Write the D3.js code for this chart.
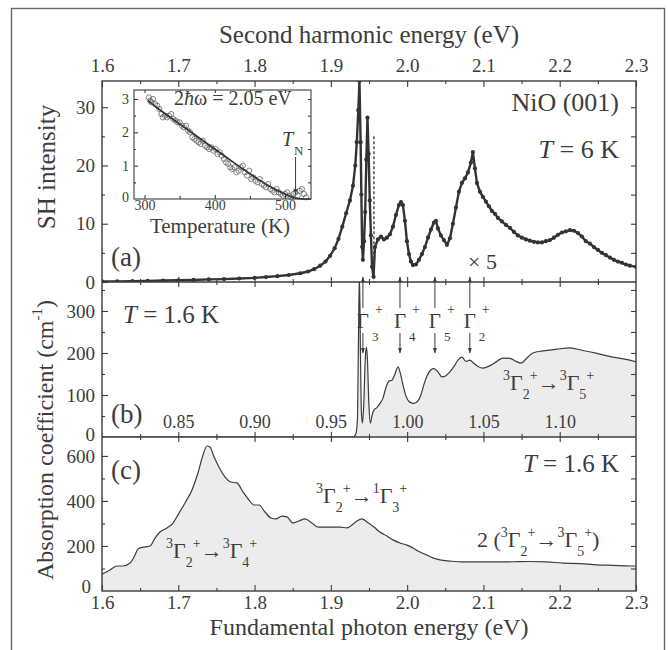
<!DOCTYPE html>
<html><head><meta charset="utf-8">
<script src="https://cdn.jsdelivr.net/npm/d3@7"></script>
<style>
html,body{margin:0;padding:0;background:#fff;}
svg{display:block;}
text{font-family:"Liberation Serif","Times New Roman",serif;fill:#3c3c3c;}
</style></head><body>
<svg id="c" width="669" height="650"></svg>
<script>
// ---------- DATA ----------
// Panel (a): SH intensity vs second-harmonic energy (eV); above the break values are x5
const shEnergy = [1.600,1.620,1.640,1.660,1.680,1.700,1.720,1.740,1.760,1.780,1.800,1.815,1.830,1.845,1.860,1.870,1.878,1.886,1.893,1.899,1.905,1.910,1.915,1.920,1.925,1.929,1.932,1.934,1.936,1.9375,1.939,1.940,1.941,1.942,1.9435,1.945,1.9465,1.948,1.9495,1.951,1.9525,1.954,1.956,
 1.9578,1.9617,1.9657,1.9696,1.9735,1.9775,1.9814,1.9853,1.9892,1.9919,1.9945,1.9971,1.9997,2.0024,2.0050,2.0076,2.0115,2.0155,2.0194,2.0233,2.0273,2.0312,2.0351,2.0377,2.0404,2.0443,2.0482,2.0522,2.0561,2.0600,2.0640,2.0679,2.0718,2.0758,2.0797,2.0836,2.0862,2.0889,2.0915,2.0954,2.0993,2.1033,2.1072,2.1111,2.1151,2.1190,2.1242,2.1295,2.1347,2.1400,2.1452,2.1504,2.1557,2.1609,2.1662,2.1714,2.1767,2.1819,2.1871,2.1924,2.1976,2.2029,2.2081,2.2134,2.2186,2.2239,2.2291,2.2343,2.2396,2.2448,2.2501,2.2553,2.2606,2.2658,2.2710,2.2763,2.2815,2.2868,2.2920,2.3000];
const shIntensity = [0.1,0.1,0.15,0.2,0.25,0.3,0.35,0.45,0.5,0.6,0.7,0.85,1.0,1.2,1.5,1.8,2.2,2.8,3.5,4.5,5.8,7.4,9.5,11.8,14.0,16.5,20,24,29.5,34.5,24,15,6,3.8,7,12,21,28.2,22,14,8,2.6,0.9,
 6.0,7.3,7.8,7.3,7.6,8.2,9.5,11.5,13.2,13.7,13.2,10.5,7.0,4.8,3.5,2.9,3.0,3.8,4.8,6.0,7.6,9.0,10.2,10.5,9.2,8.0,7.2,6.4,7.5,10.0,12.8,15.5,17.0,17.8,18.8,20.5,22.3,19.5,17.0,15.5,14.6,13.8,13.0,12.2,11.7,11.0,10.4,9.8,9.3,8.6,8.0,7.6,7.3,7.1,6.9,6.8,6.8,7.0,7.2,7.6,8.1,8.5,8.7,8.9,8.8,8.4,7.8,7.0,6.6,6.0,5.5,5.0,4.6,4.2,3.8,3.5,3.3,3.0,2.8,2.6];
const scaleBreak = [1.9565, 25];   // dashed line: energy, top value
const scaleFactorLabel = "× 5";

// Inset: SH intensity vs temperature at 2ħω = 2.05 eV
const insetFitT = [305,320,340,360,380,400,420,440,460,480,500,515,525,537];
const insetFitV = [2.95,2.7,2.4,2.1,1.8,1.5,1.2,0.9,0.62,0.36,0.15,0.03,0,0];
const insetPtT = [306,308,310,312,315,318,321,324,326,329,332,335,338,341,344,347,350,353,356,359,362,365,368,371,374,377,380,383,386,389,392,395,398,401,404,407,410,413,416,419,422,425,428,431,434,437,440,443,446,449,452,455,458,461,464,467,470,473,476,479,482,485,488,491,494,497,500,503,506,509,512,515,518,521,524,527,530];
const insetPtV = [3.05,2.95,2.9,3.0,2.85,2.8,2.7,2.55,2.45,2.5,2.45,2.5,2.55,2.4,2.35,2.3,2.3,2.2,2.15,2.2,2.05,2.0,1.85,1.8,1.75,1.7,1.65,1.75,1.6,1.55,1.5,1.55,1.45,1.5,1.35,1.4,1.3,1.2,1.1,1.05,0.95,0.9,0.95,0.8,0.85,0.95,1.0,0.8,0.7,0.85,0.6,0.65,0.55,0.5,0.6,0.45,0.4,0.35,0.45,0.3,0.25,0.2,0.3,0.2,0.15,0.1,0.15,0.2,0.1,0.05,0.15,0.2,0.1,0.25,0.3,0.15,0.05];
const TN = 515;

// Panel (b): absorption vs fundamental energy (eV), 0.8 - 1.15
const bEnergy = [0.8,0.9645,0.9664,0.9674,0.968,0.9687,0.9694,0.970,0.9707,0.9716,0.9726,0.9733,0.9739,0.9749,0.9759,0.9769,0.9782,0.9802,0.9822,0.9841,0.9861,0.9881,0.990,0.992,0.994,0.9953,0.9972,0.9992,1.0018,1.0045,1.0071,1.009,1.011,1.013,1.0156,1.0176,1.0202,1.0228,1.0254,1.028,1.0307,1.0333,1.0359,1.0385,1.0411,1.0438,1.0464,1.0497,1.0543,1.0588,1.0628,1.0674,1.0713,1.0746,1.0785,1.0824,1.089,1.0982,1.1067,1.1152,1.1244,1.1349,1.146,1.15];
const bAbs = [0,0,8,40,200,390,200,60,33,80,190,214,190,80,33,50,64,70,80,92,118,133,135,150,167,155,125,98,83,80,86,100,125,145,160,163,155,143,146,155,168,183,190,180,183,175,168,164,170,180,188,187,180,176,188,200,205,209,212,206,199,190,183,179];
const gammaLevels = [["3",0.971],["4",0.9953],["5",1.0182],["2",1.0411]];

// Panel (c): absorption vs fundamental energy (eV), 1.6 - 2.3
const cEnergy = [1.600,1.6105,1.6197,1.6275,1.6367,1.6433,1.6472,1.6564,1.6629,1.6695,1.676,1.6852,1.6931,1.6996,1.7088,1.718,1.7258,1.7324,1.7376,1.7415,1.7468,1.7533,1.7612,1.7691,1.7769,1.7848,1.7927,1.7992,1.8058,1.8136,1.8215,1.828,1.8359,1.8425,1.8503,1.8582,1.8661,1.8752,1.8831,1.8923,1.9014,1.9119,1.9211,1.9277,1.9342,1.9408,1.9473,1.9565,1.9643,1.9735,1.9814,1.9906,1.9997,2.0076,2.0168,2.0259,2.0338,2.043,2.0561,2.0731,2.0954,2.1177,2.1387,2.1609,2.1832,2.2042,2.2265,2.2488,2.2697,2.292,2.300];
const cAbs = [75,93,111,111,124,160,187,196,200,235,262,280,302,338,391,449,524,604,644,640,596,551,507,484,480,440,404,382,382,351,324,320,333,329,302,311,320,302,284,284,284,284,280,293,311,320,307,284,262,244,227,213,204,191,173,160,147,138,133,129,129,129,130,131,129,124,122,116,114,111,111];

// Axes tick values / labels
const energyMajor = [1.6,1.7,1.8,1.9,2.0,2.1,2.2,2.3];
const energyMinor = [1.65,1.75,1.85,1.95,2.05,2.15,2.25];
const bInnerLabels = [0.85,0.90,0.95,1.00,1.05,1.10];
const aYMajor=[0,10,20,30], aYMinor=[5,15,25];
const bYMajor=[0,100,200,300], bYMinor=[50,150,250,350];
const cYMajor=[0,200,400,600], cYMinor=[100,300,500];
const insetXMajor=[300,400,500], insetXMinor=[350,450];
const insetYMajor=[0,1,2,3], insetYMinor=[0.5,1.5,2.5];

// ---------- LAYOUT ----------
const L=102, R=636, TOP=81, AB=282, BB=437, CB=591;
const INK="#3c3c3c";
const xSH = d3.scaleLinear([1.6,2.3],[L,R]);
const xB  = d3.scaleLinear([0.8,1.15],[L,R]);
const yA  = d3.scaleLinear([0,34.5],[AB,TOP]);
const yB  = d3.scaleLinear([0,369],[BB,AB]);
const yC  = d3.scaleLinear([0,684],[CB,BB]);
const xI  = d3.scaleLinear([285,537],[134,311]);
const yI  = d3.scaleLinear([0,3.27],[199,90]);

const svg = d3.select("#c");
const defs = svg.append("defs");
defs.append("marker").attr("id","ah").attr("viewBox","0 0 10 10").attr("refX",9).attr("refY",5)
  .attr("markerWidth",6).attr("markerHeight",6).attr("orient","auto-start-reverse").attr("markerUnits","userSpaceOnUse")
  .append("path").attr("d","M0,1.5 L10,5 L0,8.5 Z").attr("fill",INK);
defs.append("clipPath").attr("id","clipA").append("rect").attr("x",L).attr("y",TOP).attr("width",R-L).attr("height",AB-TOP);
defs.append("clipPath").attr("id","clipB").append("rect").attr("x",L).attr("y",AB).attr("width",R-L).attr("height",BB-AB);
defs.append("clipPath").attr("id","clipC").append("rect").attr("x",L).attr("y",BB).attr("width",R-L).attr("height",CB-BB);

// outer frame
svg.append("rect").attr("x",11.5).attr("y",8.5).attr("width",653).attr("height",700)
  .attr("fill","none").attr("stroke","#666").attr("stroke-width",1.4);

// ---------- PANEL (b) ----------
const bData = bEnergy.map((e,i)=>[e,bAbs[i]]);
const gB = svg.append("g").attr("clip-path","url(#clipB)");
gB.append("path").datum(bData).attr("fill","#ececec")
  .attr("d",d3.area().x(d=>xB(d[0])).y0(yB(0)).y1(d=>yB(d[1])).curve(d3.curveMonotoneX));
gB.append("path").datum(bData).attr("fill","none").attr("stroke",INK).attr("stroke-width",1.2)
  .attr("d",d3.line().x(d=>xB(d[0])).y(d=>yB(d[1])).curve(d3.curveMonotoneX));

// ---------- PANEL (c) ----------
const cData = cEnergy.map((e,i)=>[e,cAbs[i]]);
const gC = svg.append("g").attr("clip-path","url(#clipC)");
gC.append("path").datum(cData).attr("fill","#ececec")
  .attr("d",d3.area().x(d=>xSH(d[0])).y0(yC(0)).y1(d=>yC(d[1])).curve(d3.curveMonotoneX));
gC.append("path").datum(cData).attr("fill","none").attr("stroke",INK).attr("stroke-width",1.2)
  .attr("d",d3.line().x(d=>xSH(d[0])).y(d=>yC(d[1])).curve(d3.curveMonotoneX));

// ---------- PANEL (a) ----------
const aData = shEnergy.map((e,i)=>[e,shIntensity[i]]);
const gA = svg.append("g").attr("clip-path","url(#clipA)");
gA.append("path").datum(aData).attr("fill","none").attr("stroke","#333").attr("stroke-width",2.4)
  .attr("d",d3.line().x(d=>xSH(d[0])).y(d=>yA(d[1])));
gA.selectAll("circle").data(aData).join("circle")
  .attr("cx",d=>xSH(d[0])).attr("cy",d=>yA(d[1])).attr("r",2.1).attr("fill","#333");
gA.append("line").attr("x1",xSH(scaleBreak[0])).attr("x2",xSH(scaleBreak[0]))
  .attr("y1",yA(scaleBreak[1])).attr("y2",yA(0)).attr("stroke","#333").attr("stroke-width",1.3).attr("stroke-dasharray","3,2");

// ---------- AXES ----------
function ax(gen, scale, vals, size, pad, fmt, tx, ty, fs){
  const a = gen(scale).tickValues(vals).tickSizeInner(size).tickSizeOuter(0).tickPadding(pad)
    .tickFormat(fmt ? fmt : ()=> "");
  const g = svg.append("g").attr("transform",`translate(${tx},${ty})`).call(a);
  g.select(".domain").remove();
  g.selectAll("line").attr("stroke",INK).attr("stroke-width",1.1);
  g.selectAll("text").attr("font-family","Liberation Serif, serif").attr("font-size",fs||19).attr("fill",INK);
  g.attr("font-family",null).attr("font-size",null);
  return g;
}
const f1 = d3.format(".1f"), f2 = d3.format(".2f"), f0 = d3.format("d");
// top axis
ax(d3.axisTop, xSH, energyMajor, -6, 9, f1, 0, TOP);
ax(d3.axisTop, xSH, energyMinor, -3, 9, null, 0, TOP);
// bottom axis
ax(d3.axisBottom, xSH, energyMajor, -6, 5, f1, 0, CB);
ax(d3.axisBottom, xSH, energyMinor, -3, 5, null, 0, CB);
// separators (ticks both sides)
[AB,BB].forEach(yy=>{
  ax(d3.axisTop, xSH, energyMajor.slice(1,-1), 5, 0, null, 0, yy);
  ax(d3.axisBottom, xSH, energyMajor.slice(1,-1), 5, 0, null, 0, yy);
  ax(d3.axisTop, xSH, energyMinor, 3, 0, null, 0, yy);
  ax(d3.axisBottom, xSH, energyMinor, 3, 0, null, 0, yy);
});
// panel (b) inner energy labels
ax(d3.axisTop, xB, bInnerLabels, 0, 9, f2, 0, BB, 18);
// left axes
ax(d3.axisLeft, yA, aYMajor, -6, 7, f0, L, 0);
ax(d3.axisLeft, yA, aYMinor, -3, 7, null, L, 0);
ax(d3.axisLeft, yB, bYMajor.slice(1), -6, 7, f0, L, 0);
ax(d3.axisLeft, yB, bYMinor, -3, 7, null, L, 0);
svg.append("text").attr("x",L-7).attr("y",BB+4).attr("text-anchor","end").attr("font-size",19).text(f0(bYMajor[0]));
ax(d3.axisLeft, yC, cYMajor.slice(1), -6, 7, f0, L, 0);
ax(d3.axisLeft, yC, cYMinor, -3, 7, null, L, 0);
// "0" of panel (c) at the corner
svg.append("text").attr("x",91).attr("y",CB+2).attr("text-anchor","end").attr("font-size",19).text(f0(cYMajor[0]));
// right axes
ax(d3.axisRight, yA, [5,10,15,20,25,30], -5, 0, null, R, 0);
ax(d3.axisRight, yB, [50,100,150,200,250,300,350], -5, 0, null, R, 0);
ax(d3.axisRight, yC, [100,200,300,400,500,600], -5, 0, null, R, 0);

// frame and separators
svg.append("rect").attr("x",L).attr("y",TOP).attr("width",R-L).attr("height",CB-TOP)
  .attr("fill","none").attr("stroke",INK).attr("stroke-width",1.4);
[AB,BB].forEach(yy=>svg.append("line").attr("x1",L).attr("x2",R).attr("y1",yy).attr("y2",yy)
  .attr("stroke",INK).attr("stroke-width",1.4));

// ---------- INSET ----------
svg.append("rect").attr("x",xI.range()[0]).attr("y",yI.range()[1])
  .attr("width",xI.range()[1]-xI.range()[0]).attr("height",yI.range()[0]-yI.range()[1])
  .attr("fill","#fff").attr("stroke",INK).attr("stroke-width",1.1);
const gI = svg.append("g");
gI.selectAll("circle").data(insetPtT.map((t,i)=>[t,insetPtV[i]])).join("circle")
  .attr("cx",d=>xI(d[0])).attr("cy",d=>yI(d[1])).attr("r",2.6)
  .attr("fill","none").attr("stroke","#666").attr("stroke-width",0.8);
gI.append("path").datum(insetFitT.map((t,i)=>[t,insetFitV[i]])).attr("fill","none")
  .attr("stroke","#333").attr("stroke-width",1.6)
  .attr("d",d3.line().x(d=>xI(d[0])).y(d=>yI(d[1])).curve(d3.curveMonotoneX));
ax(d3.axisBottom, xI, insetXMajor, -4, 1, f0, 0, yI.range()[0], 14);
ax(d3.axisBottom, xI, insetXMinor, -3, 1, null, 0, yI.range()[0]);
ax(d3.axisTop, xI, insetXMajor.concat(insetXMinor), -3, 0, null, 0, yI.range()[1]);
ax(d3.axisLeft, yI, insetYMajor.slice(1), -4, 5, f0, xI.range()[0], 0, 14);
ax(d3.axisLeft, yI, insetYMinor, -2, 5, null, xI.range()[0], 0);
svg.append("text").attr("x",xI.range()[0]-5).attr("y",yI(0)+3).attr("text-anchor","end").attr("font-size",14).text("0");
ax(d3.axisRight, yI, insetYMajor.slice(1).concat(insetYMinor), -3, 0, null, xI.range()[1], 0);
svg.append("text").attr("x",220).attr("y",233).attr("text-anchor","middle").attr("font-size",21).text("Temperature  (K)");
const eq = svg.append("text").attr("x",174).attr("y",105).attr("font-size",20);
eq.append("tspan").text("2");
eq.append("tspan").attr("font-style","italic").text("ħ");
eq.append("tspan").text("ω =  2.05 eV");
svg.append("text").attr("x",282).attr("y",146).attr("font-size",20).attr("font-style","italic").text("T");
svg.append("text").attr("x",294).attr("y",155).attr("font-size",13).text("N");
svg.append("line").attr("x1",xI(TN)).attr("x2",xI(TN)).attr("y1",157).attr("y2",194)
  .attr("stroke",INK).attr("stroke-width",1).attr("marker-end","url(#ah)");

// ---------- TEXT ----------
function rich(x, y, parts, size, anchor){
  const t = svg.append("text").attr("x",x).attr("y",y).attr("font-size",size).attr("text-anchor",anchor||"start");
  let cur = 0;
  parts.forEach(([k,s])=>{
    const target = k==="sup" ? -size*0.45 : k==="sub" ? size*0.42 : 0;
    const full = (k==="n" || k==="i");
    t.append("tspan").attr("dy",target-cur).attr("font-size", full ? size : Math.round(size*0.62))
      .attr("font-style", k==="i" ? "italic" : null).text(s);
    cur = target;
  });
  return t;
}
svg.append("text").attr("x",369).attr("y",43).attr("text-anchor","middle").attr("font-size",25).text("Second harmonic energy  (eV)");
svg.append("text").attr("x",369).attr("y",635).attr("text-anchor","middle").attr("font-size",24).text("Fundamental photon energy  (eV)");
svg.append("text").attr("transform","translate(55,167) rotate(-90)").attr("text-anchor","middle").attr("font-size",25).text("SH intensity");
rich(0,0,[["n","Absorption coefficient  (cm"],["sup","-1"],["n",")"]],24).attr("transform","translate(53,440) rotate(-90)").attr("text-anchor","middle");

svg.append("text").attr("x",111).attr("y",266).attr("font-size",27).text("(a)");
svg.append("text").attr("x",111).attr("y",423).attr("font-size",27).text("(b)");
svg.append("text").attr("x",111).attr("y",479).attr("font-size",27).text("(c)");

svg.append("text").attr("x",619).attr("y",111).attr("text-anchor","end").attr("font-size",26).text("NiO (001)");
rich(619,158,[["i","T"],["n","  =  6 K"]],26,"end");
svg.append("text").attr("x",468).attr("y",269).attr("font-size",22).text(scaleFactorLabel);

rich(123,323,[["i","T"],["n"," = 1.6 K"]],25);
rich(619,472,[["i","T"],["n"," = 1.6 K"]],25,"end");

// Gamma level markers in (b)
gammaLevels.forEach(([n,e])=>{
  const x = xB(e);
  svg.append("line").attr("x1",x).attr("x2",x).attr("y1",308).attr("y2",277)
    .attr("stroke",INK).attr("stroke-width",1).attr("marker-end","url(#ah)");
  svg.append("line").attr("x1",x).attr("x2",x).attr("y1",333).attr("y2",353)
    .attr("stroke",INK).attr("stroke-width",1).attr("marker-end","url(#ah)");
  svg.append("text").attr("x",x).attr("y",328).attr("text-anchor","middle").attr("font-size",21).text("Γ");
  svg.append("text").attr("x",x+9).attr("y",341).attr("font-size",13).text(n);
  svg.append("text").attr("x",x+12).attr("y",314).attr("font-size",14).text("+");
});

rich(503,390,[["sup","3"],["n","Γ"],["sub","2"],["sup","+"],["n","→"],["sup","3"],["n","Γ"],["sub","5"],["sup","+"]],22);
rich(166,558,[["sup","3"],["n","Γ"],["sub","2"],["sup","+"],["n","→"],["sup","3"],["n","Γ"],["sub","4"],["sup","+"]],22);
rich(316,503,[["sup","3"],["n","Γ"],["sub","2"],["sup","+"],["n","→"],["sup","1"],["n","Γ"],["sub","3"],["sup","+"]],22);
rich(477,547,[["n","2 ("],["sup","3"],["n","Γ"],["sub","2"],["sup","+"],["n","→"],["sup","3"],["n","Γ"],["sub","5"],["sup","+"],["n",")"]],22);
</script>
</body></html>
